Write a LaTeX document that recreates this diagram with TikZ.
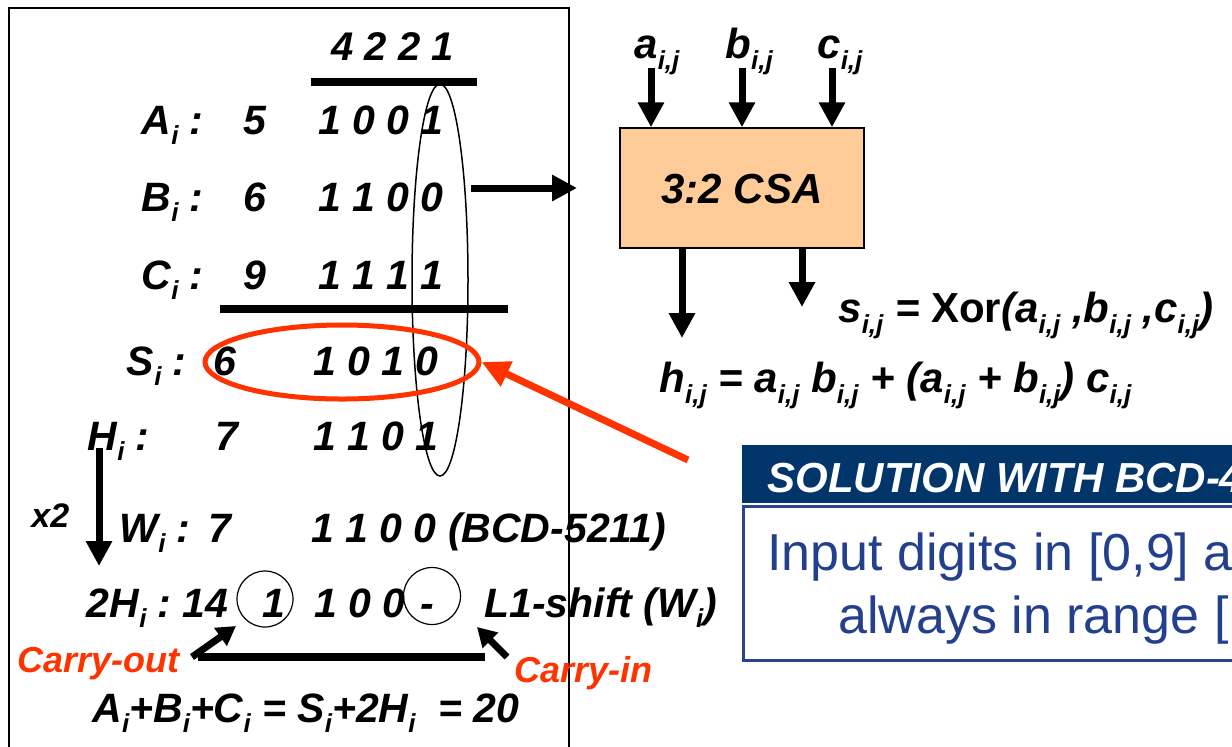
\documentclass[tikz,border=0pt]{standalone}
\usepackage{fontspec}
\setmainfont{Liberation Sans}
\usetikzlibrary{arrows.meta,shapes.geometric}
\definecolor{peach}{HTML}{FFCC99}
\definecolor{redor}{HTML}{FF3300}
\definecolor{navy}{HTML}{02356A}
\definecolor{txtblue}{HTML}{23408E}
\definecolor{bordblue}{HTML}{2A4494}
\newcommand\sbs[1]{\raisebox{-0.5ex}{\fontsize{13}{13}\selectfont #1}}
\tikzset{
  bi/.style={font=\fontsize{20.5}{24}\selectfont\bfseries\itshape, anchor=base west, inner sep=0pt},
  bie/.style={bi, anchor=base east},
  rt/.style={font=\fontsize{21}{25}\selectfont\bfseries\itshape, anchor=base west, inner sep=0pt},
  redtxt/.style={font=\fontsize{18}{22}\selectfont\bfseries\itshape, text=redor, anchor=base west, inner sep=0pt},
  arr/.style={line width=3.5pt, -{Triangle[length=12.5pt,width=12.5pt]}},
  carr/.style={line width=3.5pt, -{Triangle[length=9.5pt,width=10.5pt]}},
  rulebar/.style={line width=4pt},
  thinln/.style={line width=0.75pt},
}
\begin{document}
\begin{tikzpicture}[x=0.5pt,y=-0.5pt]
\useasboundingbox (0,0) rectangle (1232,746);
\clip (0,0) rectangle (1232,746);
% frame
\draw[thinln] (9,8) rectangle (569,770);
% header weights
\node[bi, font=\fontsize{20}{24}\selectfont\bfseries\itshape] (w) at (331,60) {4 2 2 1};
\coordinate (r1a) at (311,82); \coordinate (r1b) at (477,82);
\draw[rulebar] (r1a) -- (r1b);
% rows
\node[bie] (lA) at (204,134) {A\sbs{i} :};
\node[bi] (dA) at (243,134) {5};
\node[bi] (bA) at (318,134) {1 0 0 1};
\node[bie] (lB) at (204,211) {B\sbs{i} :};
\node[bi] (dB) at (243,211) {6};
\node[bi] (bB) at (318,211) {1 1 0 0};
\node[bie] (lC) at (204,289) {C\sbs{i} :};
\node[bi] (dC) at (243,289) {9};
\node[bi] (bC) at (318,289) {1 1 1 1};
\coordinate (r2a) at (220,309); \coordinate (r2b) at (508,309);
\draw[rulebar] (r2a) -- (r2b);
\node[bie] (lS) at (187,375) {S\sbs{i} :};
\node[bi] (dS) at (213,375) {6};
\node[bi] (bS) at (313,375) {1 0 1 0};
\node[bie] (lH) at (150,450) {H\sbs{i} :};
\node[bi] (dH) at (215,450) {7};
\node[bi] (bH) at (313,450) {1 1 0 1};
\node[bie] (lW) at (191,542) {W\sbs{i} :};
\node[bi] (dW) at (208,542) {7};
\node[bi] (bW) at (311,542) {1 1 0 0 (BCD-5211)};
\node[bie] (l2H) at (172,617) {2H\sbs{i} :};
\node[bi] (d2H) at (182,617) {14};
\node[bi, anchor=base] (co1) at (274,617) {1};
\node[bi] (b2H) at (314,617) {1 0 0};
\node[bi] (dash) at (420,617) {-};
\node[bi] (shift) at (484,617) {L1-shift (W\sbs{i})};
\node[bi] (eq) at (92,722) {A\sbs{i}+B\sbs{i}+C\sbs{i} = S\sbs{i}+2H\sbs{i} \ = 20};
% column ellipse
\draw[thinln] (440,280) ellipse [x radius=28, y radius=196];
% x2 arrow
\node[bi, font=\fontsize{17}{20}\selectfont\bfseries\itshape] (x2) at (31,527) {x2};
\coordinate (x2a) at (99,448); \coordinate (x2b) at (99,566);
\draw[arr] (x2a) -- (x2b);
% circles
\draw[line width=0.6pt] (265,599) circle [radius=28];
\draw[line width=0.6pt] (432,596) circle [radius=28.5];
% carries
\coordinate (cl1) at (198,657); \coordinate (cl2) at (485,657);
\draw[rulebar] (cl1) -- (cl2);
\coordinate (coS) at (192,657); \coordinate (coT) at (236,626);
\draw[carr] (coS) -- (coT);
\coordinate (ciS) at (507,657); \coordinate (ciT) at (477,627);
\draw[carr] (ciS) -- (ciT);
\node[redtxt] (cout) at (17,672) {Carry-out};
\node[redtxt] (cin) at (514,682) {Carry-in};
% red ellipse and arrow
\node[draw=redor, line width=2.5pt, ellipse, minimum width=137pt, minimum height=37pt, inner sep=0pt] (sell) at (342,362) {};
\coordinate (redtail) at (688,460);
\draw[line width=3.5pt, draw=redor, -{Triangle[length=14pt,width=13pt]}] (redtail) -- (sell.east);
% B arrow
\coordinate (bS) at (471,188); \coordinate (bT) at (577,188);
\draw[arr] (bS) -- (bT);
% CSA
\node[draw, thinln, fill=peach, minimum width=122pt, minimum height=60pt, inner sep=0pt] (csa) at (742,188) {};
\node[rt, anchor=base] (csat) at (742,203) {3:2 CSA};
\node[rt] (la) at (634,58) {a\sbs{i,j}};
\node[rt] (lb) at (725,58) {b\sbs{i,j}};
\node[rt] (lc) at (817,58) {c\sbs{i,j}};
\coordinate (ain) at (651,68); \coordinate (bin) at (742,68); \coordinate (cin2) at (832,68);
\draw[arr] (ain) -- (ain |- csa.north);
\draw[arr] (bin) -- (bin |- csa.north);
\draw[arr] (cin2) -- (cin2 |- csa.north);
\coordinate (hout) at (682,338); \coordinate (sout) at (802,307);
\draw[arr] (csa.south -| hout) -- (hout);
\draw[arr] (csa.south -| sout) -- (sout);
\node[rt] (seq) at (838,322) {s\sbs{i,j} = {\upshape Xor}(a\sbs{i,j} ,b\sbs{i,j} ,c\sbs{i,j})};
\node[rt] (heq) at (659,392) {h\sbs{i,j} = a\sbs{i,j} b\sbs{i,j} + (a\sbs{i,j} + b\sbs{i,j}) c\sbs{i,j}};
% solution box
\node[fill=navy, minimum width=250pt, minimum height=29pt, inner sep=0pt, anchor=north west] (hdr) at (742,445) {};
\node[font=\fontsize{21}{25}\selectfont\bfseries\itshape, text=white, anchor=base west, inner sep=0pt] (hdrt) at (767,492) {SOLUTION WITH BCD-4};
\node[draw=bordblue, line width=1.5pt, minimum width=252pt, minimum height=77pt, inner sep=0pt, anchor=north west] (body) at (742,505) {};
\node[font=\fontsize{26}{30}\selectfont, text=txtblue, anchor=base west, inner sep=0pt] (b1) at (767,570) {Input digits in [0,9] a};
\node[font=\fontsize{26}{30}\selectfont, text=txtblue, anchor=base west, inner sep=0pt] (b2) at (838,633) {always in range [};
\end{tikzpicture}
\end{document}
